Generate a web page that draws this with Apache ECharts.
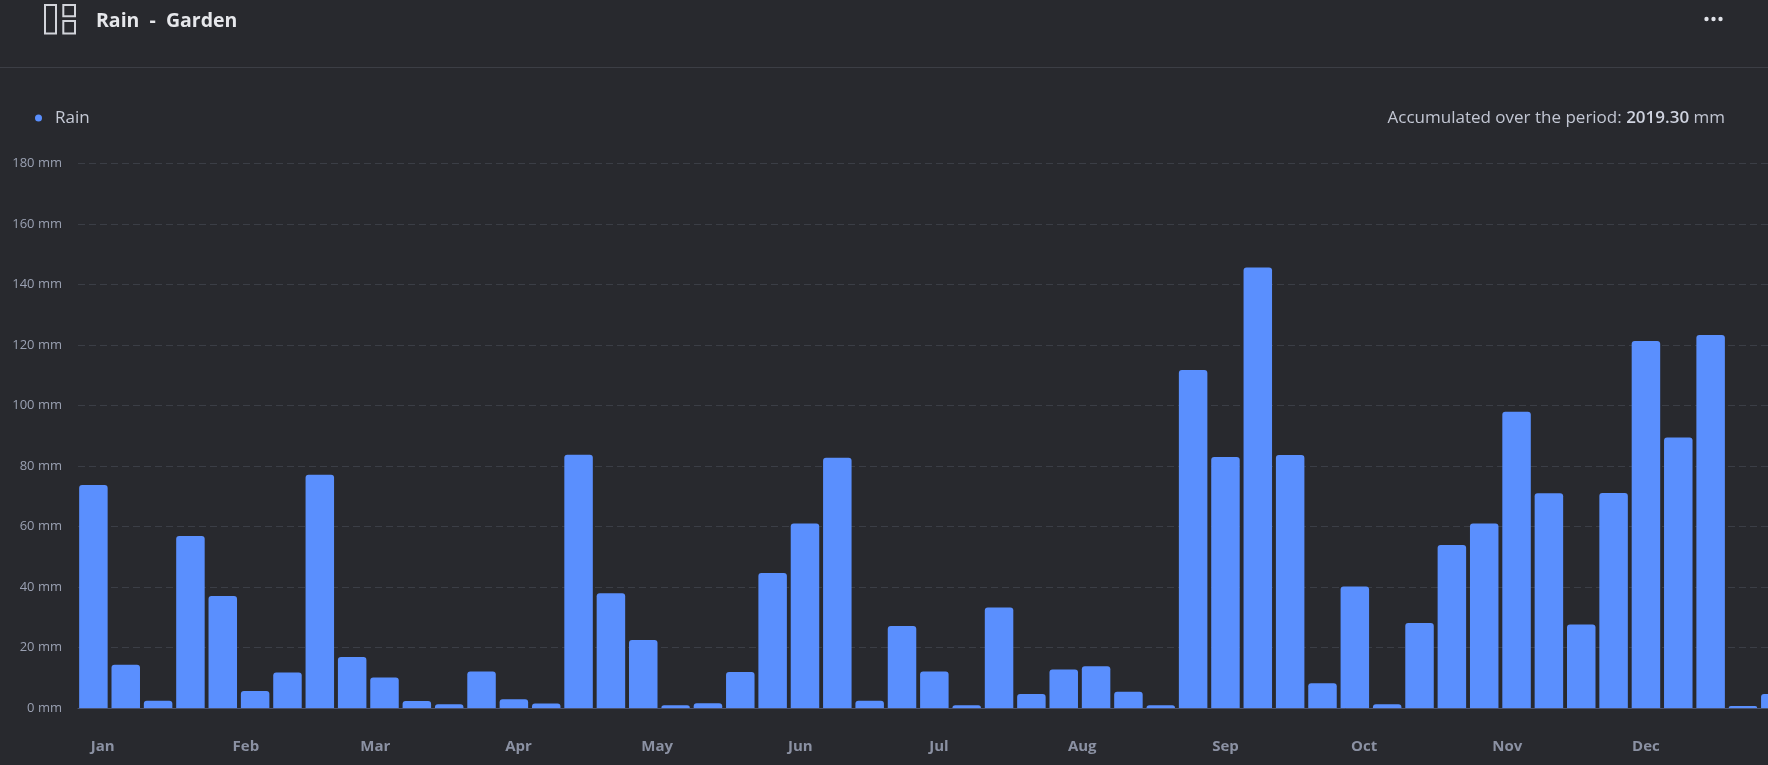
<!DOCTYPE html>
<html>
<head>
<meta charset="utf-8">
<title>Rain - Garden</title>
<script src="https://cdn.jsdelivr.net/npm/echarts@6/dist/echarts.min.js"></script>
<style>
  html, body { margin: 0; padding: 0; background: #28292e; }
  #chart { width: 1768px; height: 765px; }
</style>
</head>
<body>
<div id="chart"></div>
<script>
// weekly rain totals, one bar per week (week start dates)
var weekStarts = [
  '2024-12-30',
  '2025-01-06', '2025-01-13', '2025-01-20', '2025-01-27',
  '2025-02-03', '2025-02-10', '2025-02-17', '2025-02-24',
  '2025-03-03', '2025-03-10', '2025-03-17', '2025-03-24', '2025-03-31',
  '2025-04-07', '2025-04-14', '2025-04-21', '2025-04-28',
  '2025-05-05', '2025-05-12', '2025-05-19', '2025-05-26',
  '2025-06-02', '2025-06-09', '2025-06-16', '2025-06-23', '2025-06-30',
  '2025-07-07', '2025-07-14', '2025-07-21', '2025-07-28',
  '2025-08-04', '2025-08-11', '2025-08-18', '2025-08-25',
  '2025-09-01', '2025-09-08', '2025-09-15', '2025-09-22', '2025-09-29',
  '2025-10-06', '2025-10-13', '2025-10-20', '2025-10-27',
  '2025-11-03', '2025-11-10', '2025-11-17', '2025-11-24',
  '2025-12-01', '2025-12-08', '2025-12-15', '2025-12-22', '2025-12-29'
];
var rain = [
  73.7, 14.3, 2.4, 56.9, 37.0, 5.6, 11.7, 77.1, 16.9, 10.1,
  2.3, 1.2, 12.1, 2.9, 1.5, 83.7, 37.9, 22.5, 0.9, 1.6,
  11.9, 44.6, 61.0, 82.7, 2.4, 27.1, 12.1, 0.9, 33.2, 4.6,
  12.7, 13.8, 5.4, 0.9, 111.7, 83.0, 145.6, 83.6, 8.2, 40.2,
  1.2, 28.1, 53.9, 61.0, 97.9, 71.0, 27.6, 71.1, 121.3, 89.4,
  123.3, 0.7, 4.6
];
// month tick labels
var monthStarts = [
  '2025-01-01', '2025-02-01', '2025-03-01', '2025-04-01', '2025-05-01', '2025-06-01',
  '2025-07-01', '2025-08-01', '2025-09-01', '2025-10-01', '2025-11-01', '2025-12-01'
];
var monthNames = ['Jan', 'Feb', 'Mar', 'Apr', 'May', 'Jun', 'Jul', 'Aug', 'Sep', 'Oct', 'Nov', 'Dec'];
var totalText = '2019.30';

var font = '"Open Sans", "Noto Sans", sans-serif';

function toTime(s) {
  var p = s.split('-');
  return new Date(+p[0], +p[1] - 1, +p[2]).getTime();
}

var chart = echarts.init(document.getElementById('chart'), null, { renderer: 'canvas' });

var barData = weekStarts.map(function (d, i) {
  return [toTime(d), rain[i]];
});
var monthValues = monthStarts.map(toTime);

var option = {
  backgroundColor: '#28292e',
  animation: false,
  textStyle: { fontFamily: font },
  legend: {
    left: 35,
    top: 108,
    padding: 0,
    icon: 'circle',
    itemWidth: 7,
    itemHeight: 7,
    data: ['Rain'],
    textStyle: {
      color: '#c6cad6',
      fontSize: 17,
      fontFamily: font,
      lineHeight: 20,
      padding: [0, 0, 0, 8]
    }
  },
  grid: {
    left: 78,
    right: 0,
    top: 163.5,
    height: 544.5,
    containLabel: false
  },
  xAxis: {
    type: 'value',
    // visible window: the last week runs past the right edge
    min: new Date(2024, 11, 26, 16).getTime(),
    max: new Date(2025, 11, 27, 10).getTime(),
    axisLine: { show: true, onZero: false, lineStyle: { color: '#4a5370', width: 1 } },
    axisTick: { show: false },
    splitLine: { show: false },
    axisLabel: {
      customValues: monthValues,
      margin: 31,
      color: '#8b91a3',
      fontSize: 15,
      fontWeight: 'bold',
      fontFamily: font,
      formatter: function (value) {
        return monthNames[new Date(value).getMonth()];
      }
    }
  },
  yAxis: {
    type: 'value',
    min: 0,
    max: 180,
    interval: 20,
    axisLine: { show: false },
    axisTick: { show: false },
    splitLine: {
      show: true,
      lineStyle: { color: '#3b3e46', type: [7, 4], width: 1 }
    },
    axisLabel: {
      margin: 16,
      color: '#9aa0b2',
      fontSize: 13,
      fontFamily: font,
      formatter: '{value} mm'
    }
  },
  series: [
    {
      name: 'Rain',
      type: 'bar',
      data: barData,
      barWidth: 28.5,
      clip: true,
      itemStyle: {
        color: '#5a8ffe',
        borderRadius: [3, 3, 0, 0]
      }
    }
  ],
  graphic: [
    // layout icon
    { type: 'rect', shape: { x: 45, y: 5, width: 11, height: 28.5 }, style: { fill: null, stroke: '#d2d4da', lineWidth: 2 } },
    { type: 'rect', shape: { x: 63.3, y: 5, width: 11.7, height: 11.3 }, style: { fill: null, stroke: '#d2d4da', lineWidth: 2 } },
    { type: 'rect', shape: { x: 63.3, y: 21, width: 11.7, height: 12.5 }, style: { fill: null, stroke: '#d2d4da', lineWidth: 2 } },
    {
      type: 'text',
      x: 96,
      y: 21.5,
      style: {
        text: 'Rain  -  Garden',
        fill: '#e6e7eb',
        font: 'bold 19.5px ' + font,
        textAlign: 'left',
        textVerticalAlign: 'middle'
      }
    },
    // menu dots
    { type: 'circle', shape: { cx: 1706.5, cy: 19, r: 2.2 }, style: { fill: '#e0e2e8' } },
    { type: 'circle', shape: { cx: 1713.5, cy: 19, r: 2.2 }, style: { fill: '#e0e2e8' } },
    { type: 'circle', shape: { cx: 1720.5, cy: 19, r: 2.2 }, style: { fill: '#e0e2e8' } },
    // header separator
    { type: 'line', shape: { x1: 0, y1: 67.5, x2: 1768, y2: 67.5 }, style: { stroke: '#3c3e45', lineWidth: 1 } },
    {
      type: 'text',
      x: 1725,
      y: 118,
      style: {
        text: '{a|Accumulated over the period: }{b|' + totalText + '}{a| mm}',
        textAlign: 'right',
        textVerticalAlign: 'middle',
        rich: {
          a: { fill: '#c2c6d3', fontSize: 17, fontFamily: font },
          b: { fill: '#cfd3df', fontSize: 17, fontFamily: font, fontWeight: 600 }
        }
      }
    }
  ]
};

chart.setOption(option);
</script>
</body>
</html>
